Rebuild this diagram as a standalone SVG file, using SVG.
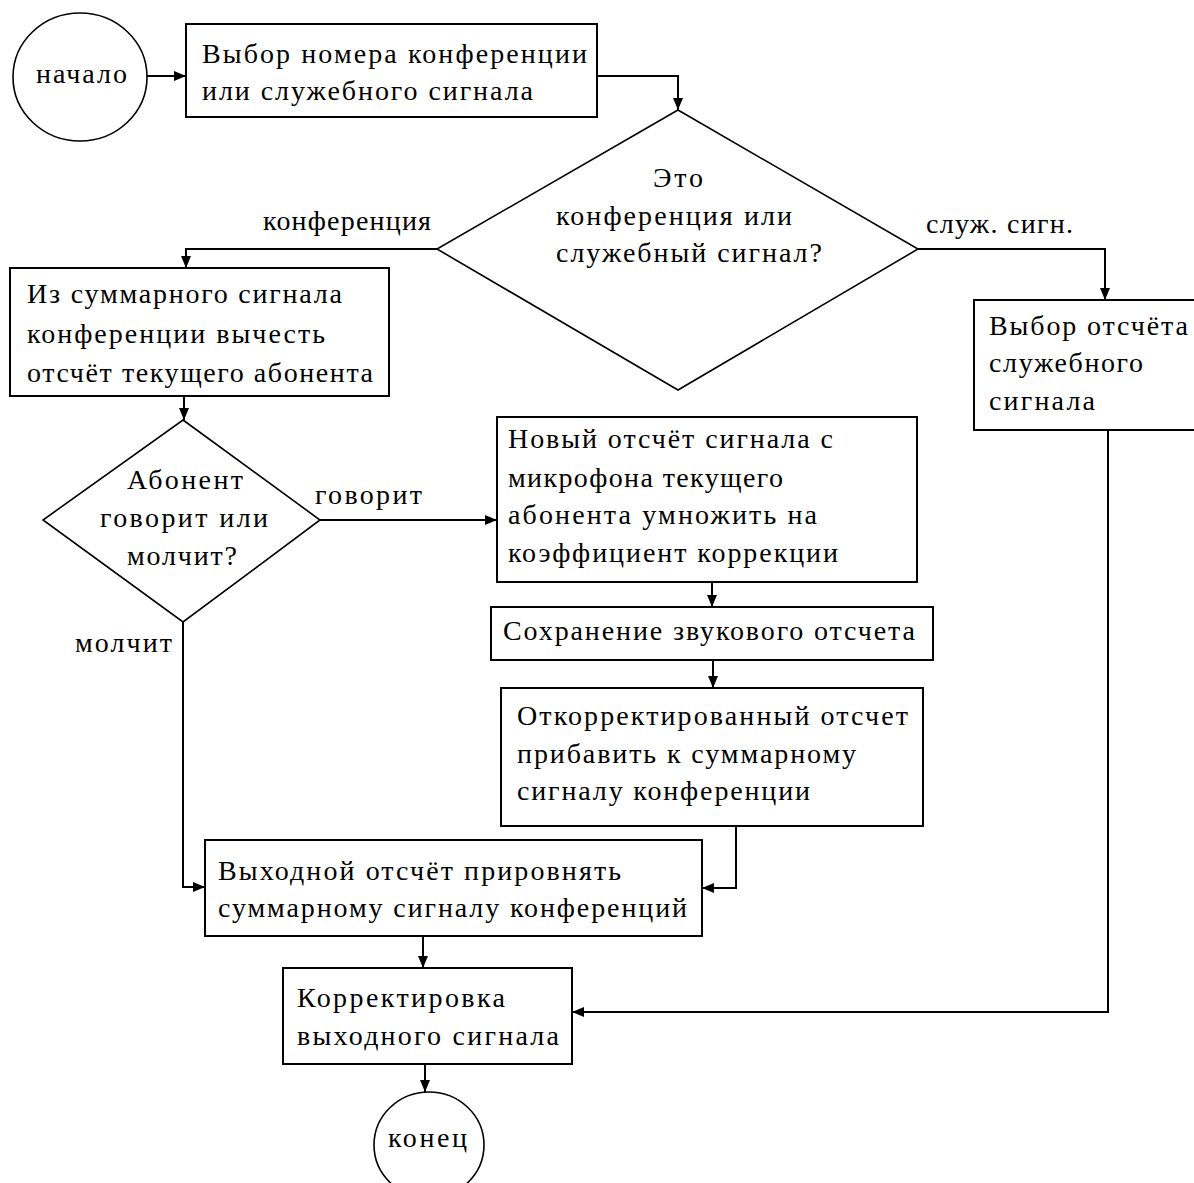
<svg xmlns="http://www.w3.org/2000/svg" width="1194" height="1183" viewBox="0 0 1194 1183">
<style>
.box{fill:#fff;stroke:#000;stroke-width:2}
.dia{fill:#fff;stroke:#000;stroke-width:1.6}
.circ{fill:#fff;stroke:#000;stroke-width:1.6}
.con{fill:none;stroke:#000;stroke-width:2}
text{font-family:"Liberation Serif","Times New Roman",serif;font-size:28px;fill:#000}
</style>
<defs>
<marker id="arr" markerUnits="userSpaceOnUse" markerWidth="13" markerHeight="10" refX="12" refY="5" orient="auto">
<path d="M0,0 L12,5 L0,10 z" fill="#000"/>
</marker>
</defs>
<rect width="1194" height="1183" fill="#fff"/>

<g id="connectors">
<path class="con" d="M147,76 H186" marker-end="url(#arr)"/>
<path class="con" d="M597,76 H678 V110" marker-end="url(#arr)"/>
<path class="con" d="M437,249 H186 V268" marker-end="url(#arr)"/>
<path class="con" d="M918,249 H1105 V300" marker-end="url(#arr)"/>
<path class="con" d="M184,396 V420" marker-end="url(#arr)"/>
<path class="con" d="M320,520 H497" marker-end="url(#arr)"/>
<path class="con" d="M183,622 V887 H205" marker-end="url(#arr)"/>
<path class="con" d="M712,582 V607" marker-end="url(#arr)"/>
<path class="con" d="M713,660 V688" marker-end="url(#arr)"/>
<path class="con" d="M736,826 V888 H702" marker-end="url(#arr)"/>
<path class="con" d="M423,936 V968" marker-end="url(#arr)"/>
<path class="con" d="M1108,430 V1012 H572" marker-end="url(#arr)"/>
<path class="con" d="M425,1064 V1092" marker-end="url(#arr)"/>
<text x="263" y="230" textLength="168" lengthAdjust="spacing">конференция</text>
<text x="926" y="233" textLength="147" lengthAdjust="spacing">служ. сигн.</text>
<text x="315" y="504" textLength="107" lengthAdjust="spacing">говорит</text>
<text x="75" y="652" textLength="97" lengthAdjust="spacing">молчит</text>
</g>

<g id="start">
<ellipse class="circ" cx="80" cy="77" rx="67" ry="64"/>
<text x="36" y="83" textLength="91" lengthAdjust="spacing">начало</text>
</g>

<g id="select">
<rect class="box" x="186" y="24" width="411" height="93"/>
<text x="202" y="63" textLength="385" lengthAdjust="spacing">Выбор номера конференции</text>
<text x="202" y="100" textLength="331" lengthAdjust="spacing">или служебного сигнала</text>
</g>

<g id="decision1">
<polygon class="dia" points="678,110 918,249 678,390 437,249"/>
<text x="653" y="187" textLength="50" lengthAdjust="spacing">Это</text>
<text x="556" y="225" textLength="236" lengthAdjust="spacing">конференция или</text>
<text x="556" y="262" textLength="266" lengthAdjust="spacing">служебный сигнал?</text>
</g>

<g id="service">
<rect class="box" x="974" y="300" width="240" height="130"/>
<text x="989" y="335" textLength="199" lengthAdjust="spacing">Выбор отсчёта</text>
<text x="989" y="372" textLength="154" lengthAdjust="spacing">служебного</text>
<text x="989" y="410" textLength="106" lengthAdjust="spacing">сигнала</text>
</g>

<g id="subtract">
<rect class="box" x="10" y="268" width="379" height="128"/>
<text x="27" y="303" textLength="315" lengthAdjust="spacing">Из суммарного сигнала</text>
<text x="27" y="343" textLength="298" lengthAdjust="spacing">конференции вычесть</text>
<text x="27" y="382" textLength="346" lengthAdjust="spacing">отсчёт текущего абонента</text>
</g>

<g id="decision2">
<polygon class="dia" points="183,420 320,520 183,622 43,520"/>
<text x="127" y="489" textLength="116" lengthAdjust="spacing">Абонент</text>
<text x="100" y="527" textLength="168" lengthAdjust="spacing">говорит или</text>
<text x="127" y="565" textLength="110" lengthAdjust="spacing">молчит?</text>
</g>

<g id="multiply">
<rect class="box" x="497" y="417" width="420" height="165"/>
<text x="508" y="448" textLength="325" lengthAdjust="spacing">Новый отсчёт сигнала с</text>
<text x="508" y="487" textLength="275" lengthAdjust="spacing">микрофона текущего</text>
<text x="508" y="524" textLength="309" lengthAdjust="spacing">абонента умножить на</text>
<text x="508" y="562" textLength="330" lengthAdjust="spacing">коэффициент коррекции</text>
</g>

<g id="save">
<rect class="box" x="491" y="607" width="442" height="53"/>
<text x="503" y="640" textLength="412" lengthAdjust="spacing">Сохранение звукового отсчета</text>
</g>

<g id="add">
<rect class="box" x="501" y="688" width="422" height="138"/>
<text x="517" y="725" textLength="391" lengthAdjust="spacing">Откорректированный отсчет</text>
<text x="517" y="763" textLength="339" lengthAdjust="spacing">прибавить к суммарному</text>
<text x="517" y="800" textLength="293" lengthAdjust="spacing">сигналу конференции</text>
</g>

<g id="output">
<rect class="box" x="205" y="840" width="497" height="96"/>
<text x="218" y="880" textLength="403" lengthAdjust="spacing">Выходной отсчёт прировнять</text>
<text x="218" y="917" textLength="469" lengthAdjust="spacing">суммарному сигналу конференций</text>
</g>

<g id="correct">
<rect class="box" x="283" y="968" width="289" height="96"/>
<text x="297" y="1007" textLength="208" lengthAdjust="spacing">Корректировка</text>
<text x="297" y="1045" textLength="262" lengthAdjust="spacing">выходного сигнала</text>
</g>

<g id="end">
<ellipse class="circ" cx="429" cy="1145" rx="55" ry="53"/>
<text x="388" y="1147" textLength="79" lengthAdjust="spacing">конец</text>
</g>
</svg>
